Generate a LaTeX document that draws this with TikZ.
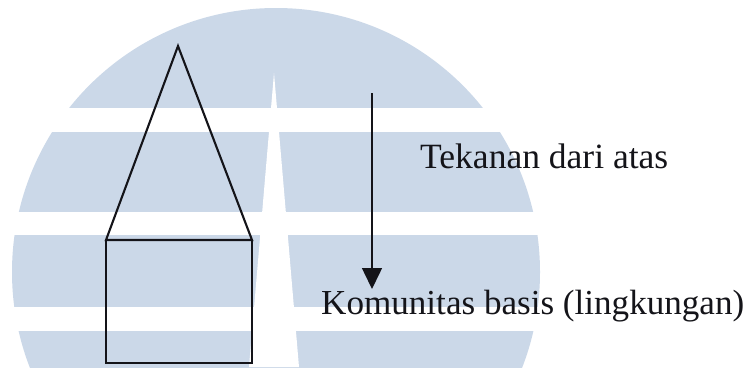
\documentclass[tikz,border=0pt]{standalone}
\usepackage{fontspec}
\setmainfont{Liberation Serif}
\usepackage{graphicx}
\usetikzlibrary{arrows.meta}
\definecolor{wm}{RGB}{203,216,232}
\definecolor{ink}{RGB}{20,20,25}
\begin{document}
\begin{tikzpicture}[x=1pt,y=-1pt,
  shapeline/.style={draw=ink,line width=2.1pt,line join=miter},
  labeltext/.style={anchor=base west,inner sep=0pt,text=ink},
  pressure/.style={draw=ink,line width=1.5pt,-{Triangle[length=21pt,width=20pt]}}]
\useasboundingbox (0,0) rectangle (749,367);
\clip (0,0) rectangle (749,367);
\fill[white] (0,0) rectangle (749,367);
% watermark
\fill[wm] (276,272) circle[radius=264pt];
\fill[white] (0,108) rectangle (749,132);
\fill[white] (0,212) rectangle (749,235);
\fill[white] (0,307) rectangle (749,331);
\fill[white] (274,73) -- (249,367) -- (299,367) -- cycle;
% pyramid
\coordinate (apex) at (178,46);
\coordinate (bl) at (106,240);
\coordinate (br) at (252,240);
\coordinate (fl) at (106,363);
\coordinate (fr) at (252,363);
\draw[shapeline] (apex) -- (br) -- (bl) -- cycle;
\draw[shapeline] (bl) -- (br) -- (fr) -- (fl) -- cycle;
% arrow
\coordinate (ptop) at (372,93);
\coordinate (ptip) at (372,289);
\draw[pressure] (ptop) -- (ptip);
% labels
\node[labeltext] (tek) at (420,168) {\resizebox{248pt}{!}{Tekanan dari atas}};
\node[labeltext] (kom) at (321,314) {\resizebox{423pt}{!}{Komunitas basis (lingkungan)}};
\end{tikzpicture}
\end{document}
